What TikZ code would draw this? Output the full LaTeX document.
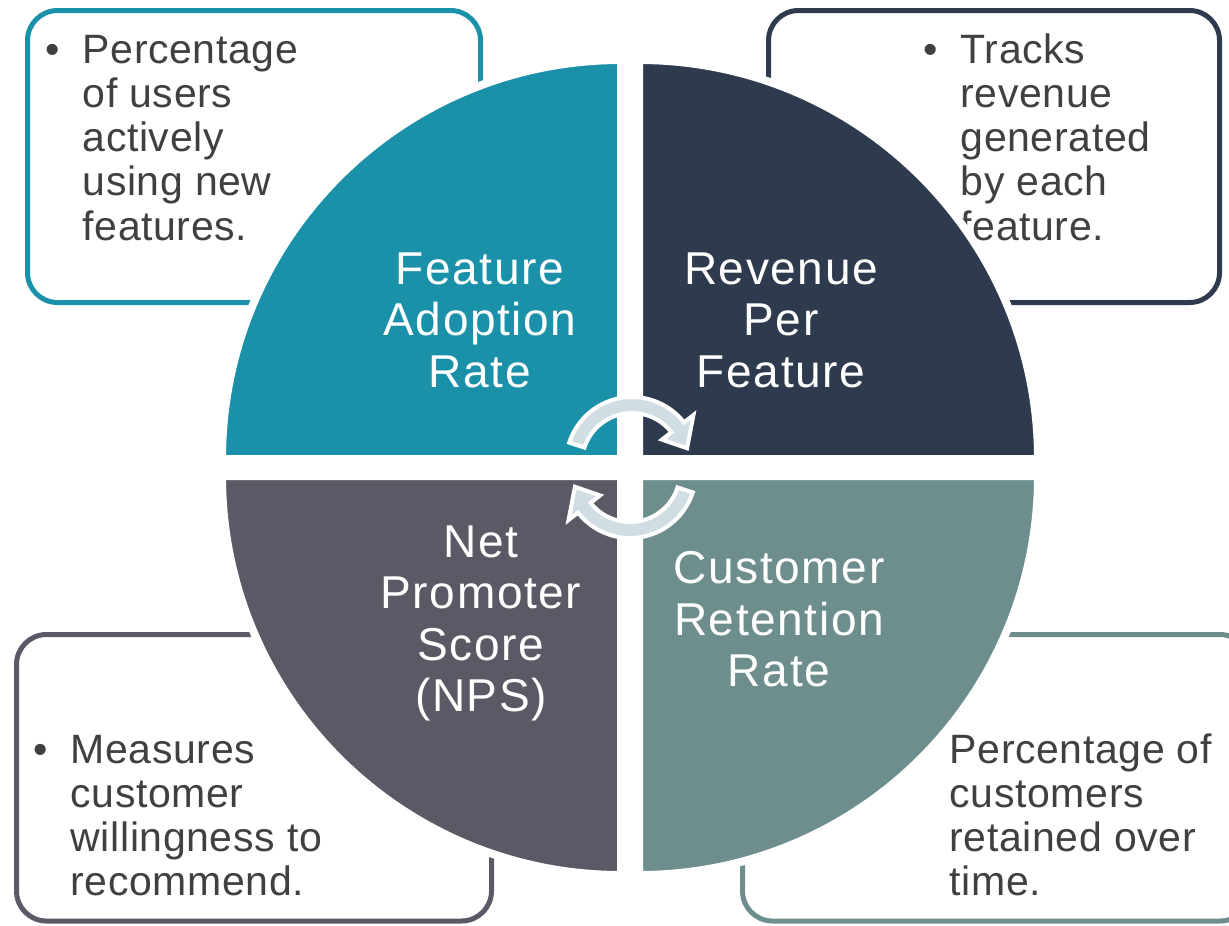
\documentclass[tikz,border=0pt]{standalone}
\usepackage{fontspec}
\setmainfont{Liberation Sans}
\newfontfamily\notefont[LetterSpace=1.5]{Liberation Sans}
\newfontfamily\quarterfont[LetterSpace=3.5]{Liberation Sans}

\definecolor{adoptteal}{HTML}{1A91A9}
\definecolor{revnavy}{HTML}{2E3B4E}
\definecolor{npsgray}{HTML}{595A65}
\definecolor{retsage}{HTML}{6E8E8E}
\definecolor{cyclefill}{HTML}{D0DEE4}
\definecolor{notetext}{HTML}{404040}

% bullet in its own column, lines hang under the first word
\newcommand{\bulletnote}[1]{%
  \begin{tabular}[t]{@{}l@{\hspace{2.26mm}}l@{}}
    \textbullet & \begin{tabular}[t]{@{}l@{}}#1\end{tabular}
  \end{tabular}}
\newcommand{\plainnote}[1]{\begin{tabular}[t]{@{}l@{}}#1\end{tabular}}

\tikzset{
  notebox/.style={line width=0.5mm, rounded corners=3mm},
  notetxt/.style={anchor=base west, inner sep=0, text=notetext,
    font=\notefont\fontsize{11.67pt}{12.6pt}\selectfont},
  quarterlbl/.style={anchor=north, inner sep=0, align=center, text=white,
    font=\quarterfont\fontsize{13.1pt}{14.65pt}\selectfont},
  cyclearrow/.style={fill=cyclefill, draw=white, line width=0.4mm},
  cyclearc/.pic={
    \filldraw[cyclearrow] (162:66) arc[start angle=162, end angle=38, radius=66]
      -- (38:78) -- (15:57) -- (38:38) -- (38:50)
      arc[start angle=38, end angle=162, radius=50] -- cycle;
  }
}

\begin{document}
\begin{tikzpicture}[x=0.1mm, y=0.1mm]
  \useasboundingbox (0,0) rectangle (1229,-925);

  % note boxes
  \draw[notebox, adoptteal] (27.5,-10.5) rectangle (480.5,-302.5);
  \draw[notebox, revnavy] (768.5,-10.5) rectangle (1219.5,-302.5);
  \draw[notebox, npsgray] (16.5,-634.5) rectangle (491.5,-921);
  \draw[notebox, retsage] (742.5,-634.5) rectangle (1250,-921);

  \node[notetxt] (adoptnote) at (45,-63)
    {\bulletnote{Percentage\\of users\\actively\\using new\\features.}};
  \node[notetxt] (revnote) at (923,-63)
    {\bulletnote{Tracks\\revenue\\generated\\by each\\feature.}};
  \node[notetxt] (npsnote) at (33,-763)
    {\bulletnote{Measures\\customer\\willingness to\\recommend.}};
  \node[notetxt] (retnote) at (949,-763)
    {\plainnote{Percentage of\\customers\\retained over\\time.}};

  % four quarters of the disc, white rim cuts the boxes
  \foreach \cx/\cy/\start/\col in {621/-459/90/adoptteal, 639/-459/0/revnavy,
                                   639/-476/270/retsage, 621/-476/180/npsgray} {
    \filldraw[fill=\col, draw=white, line width=0.8mm]
      (\cx,\cy) -- ++(\start:399) arc[start angle=\start, delta angle=90, radius=399] -- cycle;
  }

  \node[quarterlbl] (adoption) at (480,-252) {Feature\\Adoption\\Rate};
  \node[quarterlbl] (revenue) at (781,-252) {Revenue\\Per\\Feature};
  \node[quarterlbl] (nps) at (481,-525) {Net\\Promoter\\Score\\(NPS)};
  \node[quarterlbl] (retention) at (779,-551) {Customer\\Retention\\Rate};

  % cycle arrows in the middle
  \pic at (632,-463) {cyclearc};
  \pic[rotate=180] at (630,-472) {cyclearc};
\end{tikzpicture}
\end{document}
